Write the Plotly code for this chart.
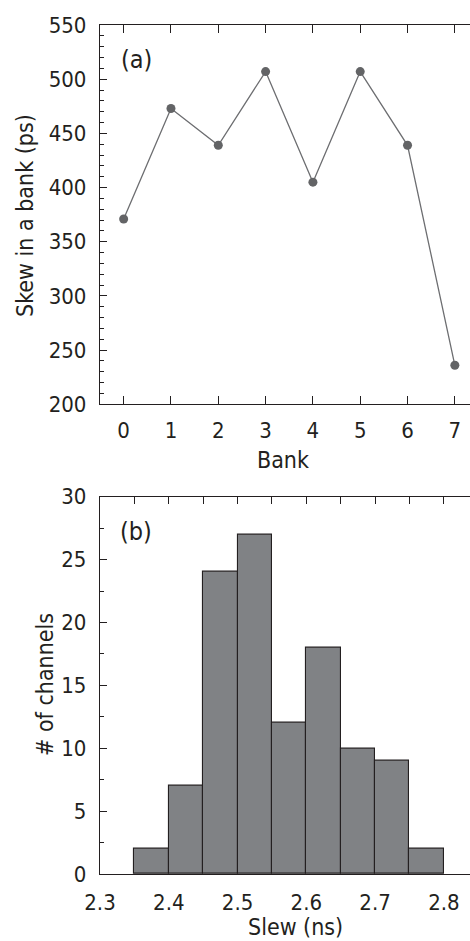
import plotly.graph_objects as go

# ---- data ----
banks = [0, 1, 2, 3, 4, 5, 6, 7]
skew_ps = [371, 473, 439, 507, 405, 507, 439, 236]

slew_bin_centers = [2.375, 2.425, 2.475, 2.525, 2.575, 2.625, 2.675, 2.725, 2.775]
channel_counts = [2, 7, 24, 27, 12, 18, 10, 9, 2]
bin_width = 0.05

W, H = 470, 941
FONT = "DejaVu Sans Condensed, Liberation Sans Narrow, Liberation Sans, Arial, sans-serif"
DARK = "#231f20"
FS = 22

def px_x(p):
    return p / W

def px_y(p):
    return 1 - p / H

fig = go.Figure()

fig.add_trace(go.Scatter(
    x=banks, y=skew_ps, mode="lines+markers",
    line=dict(color="#6d6e71", width=1.3),
    marker=dict(color="#636466", size=9),
    xaxis="x", yaxis="y", showlegend=False))

fig.add_trace(go.Bar(
    x=slew_bin_centers, y=channel_counts, width=bin_width,
    marker=dict(color="#808285", line=dict(color=DARK, width=1.1)),
    xaxis="x2", yaxis="y2", showlegend=False))

axis_common = dict(
    showline=True, linecolor=DARK, linewidth=1.3,
    ticks="inside", tickcolor=DARK, tickwidth=1.2, ticklen=8,
    showgrid=False, zeroline=False, automargin=False,
    tickfont=dict(family=FONT, size=FS, color=DARK),
)

x_dom = [px_x(100), 1.0]
x2_range = [2.3, 2.838]

fig.update_layout(
    template="none",
    width=W, height=H,
    margin=dict(l=0, r=0, t=0, b=0, autoexpand=False),
    paper_bgcolor="white", plot_bgcolor="white",
    bargap=0,
    xaxis=dict(axis_common, domain=x_dom, anchor="y", range=[-0.5, 7.32],
               tickmode="linear", tick0=0, dtick=1, mirror="ticks",
               ticklabelstandoff=6),
    yaxis=dict(axis_common, domain=[px_y(404.3), px_y(25)], anchor="x",
               range=[200, 550], tickmode="linear", tick0=200, dtick=50,
               ticklen=7, ticklabelstandoff=8,
               minor=dict(dtick=10, ticks="inside", ticklen=4,
                          tickcolor=DARK, tickwidth=1.1, showgrid=False)),
    xaxis2=dict(axis_common, domain=x_dom, anchor="y2", range=x2_range,
                tickmode="linear", tick0=2.3, dtick=0.1, ticks="",
                ticklabelstandoff=8, tickformat=".1f"),
    xaxis3=dict(axis_common, domain=x_dom, anchor="y2", overlaying="x2",
                side="top", range=x2_range, tickmode="linear", tick0=2.3,
                dtick=0.05, ticklen=7, showticklabels=False),
    yaxis2=dict(axis_common, domain=[px_y(874), px_y(496.7)], anchor="x2",
                range=[0, 30], tickmode="linear", tick0=0, dtick=5,
                ticklen=7, ticklabelstandoff=8,
                minor=dict(dtick=2.5, ticks="inside", ticklen=4,
                           tickcolor=DARK, tickwidth=1.1, showgrid=False)),
)

# invisible trace to activate the top tick axis of panel (b)
fig.add_trace(go.Scatter(x=[x2_range[0]], y=[0], mode="markers",
                         marker=dict(opacity=0), hoverinfo="skip",
                         xaxis="x3", yaxis="y2", showlegend=False))

def ann(text, x, y, angle=0, size=23):
    fig.add_annotation(text=text, x=px_x(x), y=px_y(y), xref="paper", yref="paper",
                       showarrow=False, textangle=angle,
                       xanchor="center", yanchor="middle",
                       font=dict(family=FONT, size=size, color=DARK))

ann("Skew in a bank (ps)", 25, 216, angle=-90)
ann("Bank", 283, 460)
ann("# of channels", 45, 685, angle=-90)
ann("Slew (ns)", 295, 927)
ann("(a)", 136, 59, size=25)
ann("(b)", 136, 531, size=25)

fig.write_html("out.html")
